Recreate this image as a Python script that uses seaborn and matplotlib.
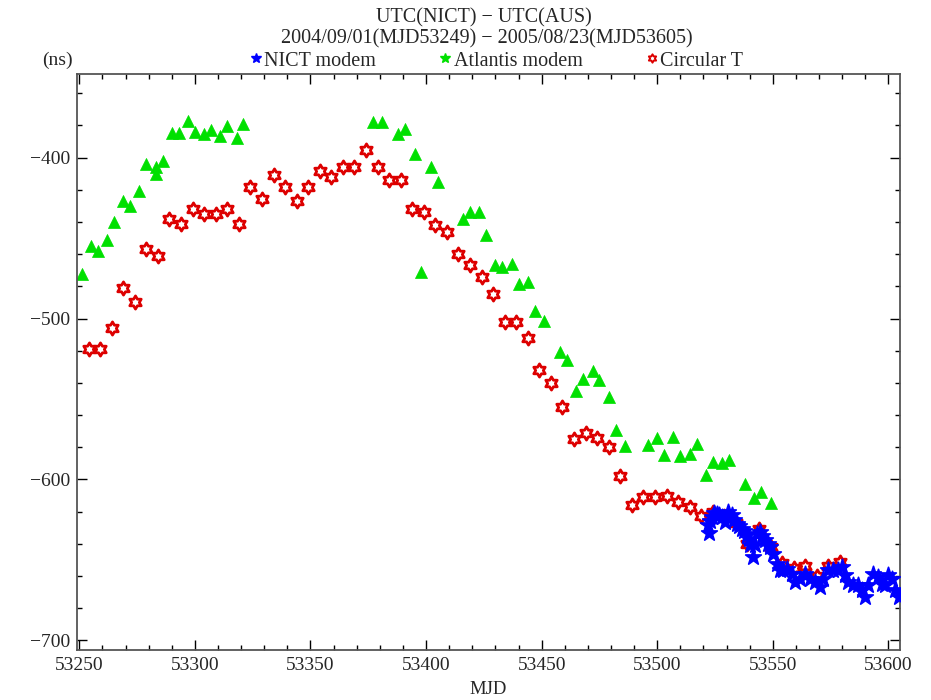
import numpy as np
import pandas as pd
import matplotlib
matplotlib.use("Agg")
import matplotlib.pyplot as plt
import seaborn as sns
from matplotlib.path import Path
from matplotlib.lines import Line2D
from matplotlib.ticker import MultipleLocator

# ---------------- data ----------------
circ_mjd = [53254, 53259, 53264, 53269, 53274, 53279, 53284, 53289, 53294, 53299,
            53304, 53309, 53314, 53319, 53324, 53329, 53334, 53339, 53344, 53349,
            53354, 53359, 53364, 53369, 53374, 53379, 53384, 53389, 53394, 53399,
            53404, 53409, 53414, 53419, 53424, 53429, 53434, 53439, 53444, 53449,
            53454, 53459, 53464, 53469, 53474, 53479, 53484, 53489, 53494, 53499,
            53504, 53509, 53514, 53519, 53524, 53529, 53534, 53539, 53544, 53549,
            53554, 53559, 53564, 53569, 53574, 53579]
circ_val = [-519, -519, -506, -481, -490, -457, -461, -438, -441, -432,
            -435, -435, -432, -441, -418, -426, -411, -418, -427, -418,
            -408, -412, -406, -406, -395, -406, -414, -414, -432, -434,
            -442, -446, -460, -467, -474, -485, -502, -502, -512, -532,
            -540, -555, -575, -571, -574, -580, -598, -616, -611, -611,
            -610, -614, -617, -623, -620, -623, -627, -640, -631, -642,
            -652, -655, -654, -660, -654, -651]

atl_mjd = [53251, 53255, 53258, 53262, 53265, 53269, 53272, 53276, 53279, 53283,
           53283, 53286, 53290, 53293, 53297, 53300, 53304, 53307, 53311, 53314,
           53318, 53321, 53377, 53381, 53388, 53391, 53395, 53398, 53402, 53405,
           53416, 53419, 53423, 53426, 53430, 53433, 53437, 53440, 53444, 53447,
           53451, 53458, 53461, 53465, 53468, 53472, 53475, 53479, 53482, 53486,
           53496, 53500, 53503, 53507, 53510, 53514, 53517, 53521, 53524, 53528,
           53531, 53538, 53542, 53545, 53549]
atl_val = [-472, -455, -458, -451, -440, -427, -430, -421, -404, -406,
           -410, -402, -384.5, -384.5, -377, -384, -385.5, -383, -386.6, -380.4,
           -388, -379, -378, -378, -385, -382, -398, -471, -406, -415,
           -438, -433.5, -433.5, -448, -466.6, -468, -466, -478.6, -477, -495.5,
           -501.5, -520.6, -526, -545, -537.5, -532.4, -538, -548.5, -569, -579,
           -578.5, -574.3, -585, -573.7, -585.7, -584, -578, -597.5, -589, -590,
           -588, -603, -611.5, -608, -614.6]

nict_mjd = [53522.1, 53522.4, 53522.8, 53523.5, 53524.6, 53525.7, 53526.8, 53527.9,
            53529.3, 53530.7, 53532.2, 53533.3, 53534.4, 53535.5, 53536.5, 53537.6,
            53538.7, 53539.5, 53540.1, 53541.3, 53542.3, 53543.0, 53544.4, 53545.5,
            53546.6, 53547.7, 53548.8, 53550.2, 53551.6, 53553.1, 53554.5, 53556.0,
            53558.1, 53559.6, 53561.7, 53563.9, 53566.1, 53568.2, 53570.4, 53571.8,
            53574.0, 53576.1, 53578.3, 53579.8, 53581.2, 53582.6, 53584.8, 53587.0,
            53588.4, 53589.9, 53591.3, 53593.5, 53595.6, 53597.1, 53598.5, 53599.9,
            53601.4, 53602.8, 53604.7]
nict_val = [-628.5, -633, -626, -623.3, -621, -621.3, -622, -623.3,
            -626.4, -620.2, -622.3, -625, -627.5, -629, -630.6, -632,
            -634.7, -637, -641, -648.1, -641, -633.7, -632.6, -635,
            -637.8, -640, -641.9, -646.1, -652.3, -656.4, -656, -655.4,
            -658.5, -663.6, -661.6, -658.5, -661.6, -663.6, -666.7, -661.6,
            -656.4, -656.4, -656.4, -654.3, -659.5, -663.6, -665.8, -665.8,
            -668.9, -673, -665.8, -658.5, -660.5, -664.7, -665.8, -659.5,
            -661.6, -668.9, -673]

df_circ = pd.DataFrame({"MJD": circ_mjd, "ns": circ_val})
df_atl = pd.DataFrame({"MJD": atl_mjd, "ns": atl_val})
df_nict = pd.DataFrame({"MJD": nict_mjd, "ns": nict_val})

# ---------------- style ----------------
sns.set_theme(style="ticks")
plt.rcParams['font.family'] = ['Liberation Serif', 'DejaVu Serif']
plt.rcParams['axes.unicode_minus'] = True

# hexagram (star of David) marker
ang_out = np.deg2rad(90 + 60 * np.arange(6))
ang_in = np.deg2rad(120 + 60 * np.arange(6))
verts = []
for ao, ai in zip(ang_out, ang_in):
    verts.append((np.cos(ao), np.sin(ao)))
    verts.append((0.58 * np.cos(ai), 0.58 * np.sin(ai)))
verts.append(verts[0])
hexa = Path(verts, closed=True)

fig = plt.figure(figsize=(9.31, 7.0), dpi=100)
ax = fig.add_axes([77 / 931, 50 / 700, 823 / 931, 576 / 700])

GREEN = '#00e000'
RED = '#dd0000'
BLUE = '#0000ff'

sns.scatterplot(data=df_atl, x="MJD", y="ns", ax=ax, marker='^', s=75,
                color=GREEN, edgecolor=GREEN, linewidth=0.5, zorder=2)
sns.scatterplot(data=df_circ, x="MJD", y="ns", ax=ax, marker=hexa, s=90,
                facecolor='white', edgecolor=RED, linewidth=2.0, zorder=3)
sns.scatterplot(data=df_nict, x="MJD", y="ns", ax=ax, marker='*', s=140,
                color=BLUE, edgecolor=BLUE, linewidth=1.2, zorder=4)

ax.set_xlim(53249, 53605)
ax.set_ylim(-706, -348)
ax.set_xlabel("")
ax.set_ylabel("")

ax.xaxis.set_major_locator(MultipleLocator(50))
ax.xaxis.set_minor_locator(MultipleLocator(10))
ax.yaxis.set_major_locator(MultipleLocator(100))
ax.yaxis.set_minor_locator(MultipleLocator(20))
ax.tick_params(which='both', direction='in', top=True, right=True,
               color='black', width=1.0, labelsize=14, pad=5)
ax.tick_params(which='major', length=7)
ax.tick_params(which='minor', length=3.5)

for sp in ax.spines.values():
    sp.set_visible(True)
    sp.set_color('#555555')
    sp.set_linewidth(1.3)

# titles
fig.text(484 / 931, 1 - 18 / 700, "UTC(NICT) \u2212 UTC(AUS)", ha='center', va='center', fontsize=14.5)
fig.text(487 / 931, 1 - 39 / 700, "2004/09/01(MJD53249) \u2212 2005/08/23(MJD53605)",
         ha='center', va='center', fontsize=14.5)
fig.text(57 / 931, 1 - 60 / 700, "(ns)", ha='center', va='center', fontsize=14)
fig.text(488 / 931, 1 - 690 / 700, "MJD", ha='center', va='center', fontsize=13.5)

handles = [
    Line2D([], [], linestyle='', marker='*', color=BLUE, markersize=7),
    Line2D([], [], linestyle='', marker='*', color=GREEN, markersize=7),
    Line2D([], [], linestyle='', marker=hexa, markerfacecolor='white',
           markeredgecolor=RED, markeredgewidth=1.4, markersize=6),
]
fig.legend(handles, ["NICT modem", "Atlantis modem", "Circular T"],
           loc='center', bbox_to_anchor=(497 / 931, 1 - 61 / 700), ncol=3,
           frameon=False, fontsize=14.5, handlelength=0.5, handletextpad=0.15,
           columnspacing=3.2, borderaxespad=0, borderpad=0)

fig.savefig("out.png", dpi=100)
